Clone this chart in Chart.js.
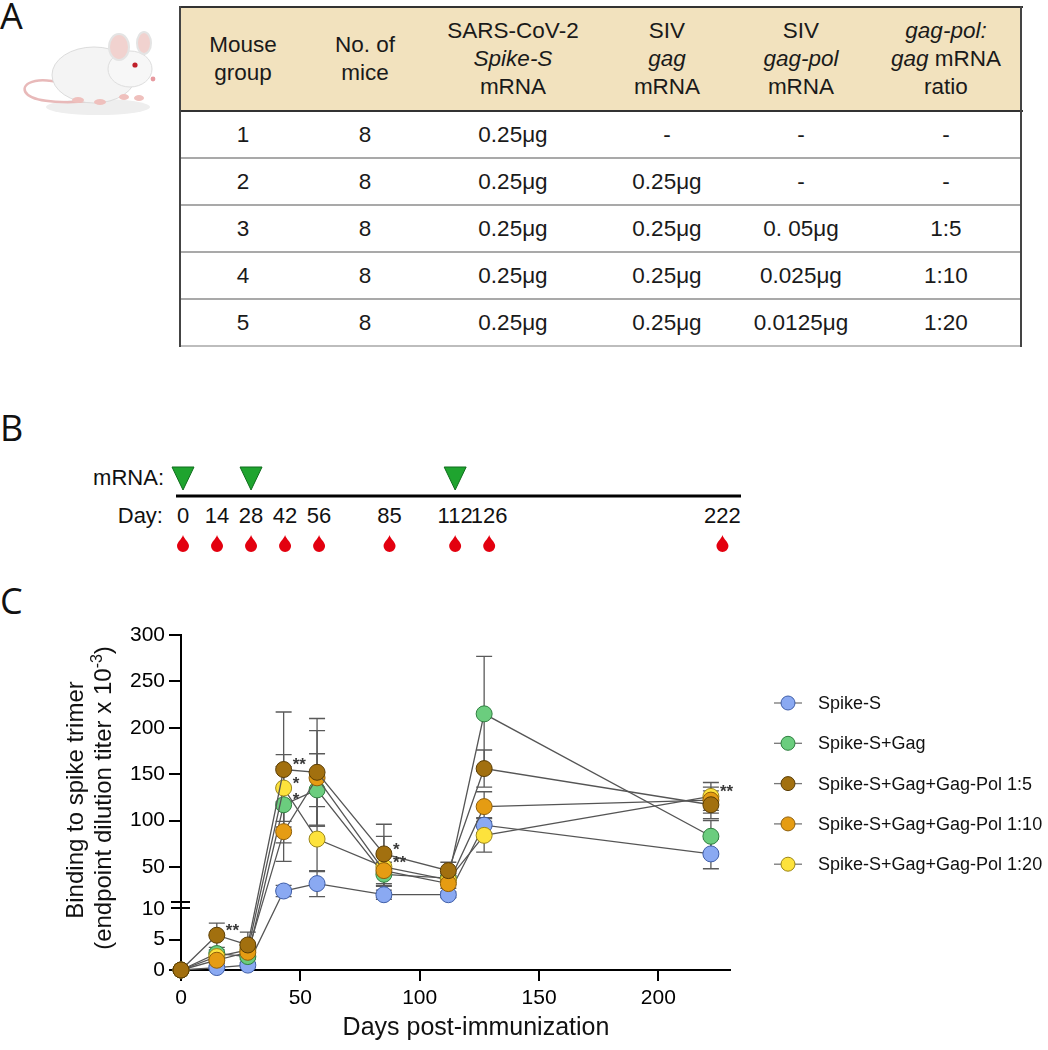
<!DOCTYPE html>
<html>
<head>
<meta charset="utf-8">
<script src="https://cdn.jsdelivr.net/npm/chart.js@4.4.1/dist/chart.umd.min.js"></script>
<style>
  html, body { margin: 0; padding: 0; background: #fff; }
  body { width: 1048px; height: 1050px; position: relative; overflow: hidden;
         font-family: "Liberation Sans", Arial, sans-serif; color: #1a1a1a; }
  .letter { position: absolute; font-family: "Open Sans", sans-serif; font-size: 36px; line-height: 36px; color: #111; }
  .cell { position: absolute; display: flex; flex-direction: column; align-items: center; justify-content: center;
          font-size: 22.5px; line-height: 28px; text-align: center; white-space: nowrap; }
  .rule { position: absolute; }
  #top { position: absolute; left: 0; top: 0; }
  #panelC { position: absolute; left: 0; top: 600px; width: 1048px; height: 450px; }
</style>
</head>
<body>
<svg id="top" width="1048" height="600" xmlns="http://www.w3.org/2000/svg">
  <!-- rough mouse drawing -->
  <g transform="translate(20,25)">
    <ellipse cx="78" cy="82" rx="52" ry="8" fill="#eeeeee"/>
    <path d="M42,58 C10,50 -2,62 8,70 C18,78 50,78 70,76" fill="none" stroke="#e8b9b9" stroke-width="2.5"/>
    <ellipse cx="74" cy="50" rx="42" ry="28" fill="#f4f4f4" stroke="#dcdcdc"/>
    <ellipse cx="110" cy="44" rx="22" ry="18" fill="#f7f7f7" stroke="#dedede"/>
    <ellipse cx="99" cy="22" rx="10" ry="13" fill="#f1d2cf" stroke="#e4e4e4" stroke-width="2"/>
    <ellipse cx="124" cy="18" rx="7" ry="11" fill="#f1d2cf" stroke="#e4e4e4" stroke-width="2"/>
    <circle cx="115" cy="40" r="2.6" fill="#c0202a"/>
    <circle cx="133" cy="54" r="2.4" fill="#e79aa0"/>
    <ellipse cx="58" cy="75" rx="6" ry="3" fill="#efc0bd"/>
    <ellipse cx="80" cy="77" rx="6" ry="3" fill="#efc0bd"/>
    <ellipse cx="104" cy="72" rx="5" ry="3" fill="#efc0bd"/>
    <ellipse cx="119" cy="73" rx="5" ry="3" fill="#efc0bd"/>
  </g>
  <g id="timeline"></g>
</svg>

<div class="letter" style="left:0;top:-2px">A</div>
<div id="table"></div>
<div class="letter" style="left:0;top:410px">B</div>
<div class="letter" style="left:0;top:583px">C</div>

<div id="panelC"><canvas id="chartC" width="1048" height="450"></canvas></div>

<script>
// ---- panel A table ----
const groups     = ['1', '2', '3', '4', '5'];
const nMice      = ['8', '8', '8', '8', '8'];
const spikeDose  = ['0.25μg', '0.25μg', '0.25μg', '0.25μg', '0.25μg'];
const gagDose    = ['-', '0.25μg', '0.25μg', '0.25μg', '0.25μg'];
const gagPolDose = ['-', '-', '0. 05μg', '0.025μg', '0.0125μg'];
const ratios     = ['-', '-', '1:5', '1:10', '1:20'];
const headerLines = [
  ['Mouse', 'group'],
  ['No. of', 'mice'],
  ['SARS-CoV-2', '<i>Spike-S</i>', 'mRNA'],
  ['SIV', '<i>gag</i>', 'mRNA'],
  ['SIV', '<i>gag-pol</i>', 'mRNA'],
  ['<i>gag-pol:</i>', '<i>gag</i> mRNA', 'ratio']
];

// ---- panel B timeline ----
const bleedDays = [0, 14, 28, 42, 56, 85, 112, 126, 222];
const mrnaDays  = [0, 28, 112];

// ---- panel C chart ----
const days = [0, 15, 28, 43, 57, 85, 112, 127, 222];
const seriesNames = ['Spike-S', 'Spike-S+Gag', 'Spike-S+Gag+Gag-Pol 1:5',
                     'Spike-S+Gag+Gag-Pol 1:10', 'Spike-S+Gag+Gag-Pol 1:20'];
const spikeS   = [0, 0.4, 0.8, 24, 32, 20, 20, 95, 64];
const spikeGag = [0, 2.7, 2.2, 117, 133, 42, 38, 215, 83];
const pol5     = [0, 5.7, 4.1, 155, 152, 64, 46, 156, 117];
const pol10    = [0, 1.6, 2.9, 88, 146, 46, 32, 115, 122];
const pol20    = [0, 2.2, 3.3, 135, 80, 50, 36, 84, 126];
const spikeSSd   = [0, 0.3, 0.4, 6, 14, 5, 3, 8, 16];
const spikeGagSd = [0, 0.6, 0.5, 41, 39, 13, 5, 62, 17];
const pol5Sd     = [0, 2.0, 2.1, 62, 58, 32, 9, 20, 15];
const pol10Sd    = [0, 0.5, 0.7, 32, 51, 16, 5, 16, 14];
const pol20Sd    = [0, 0.6, 0.8, 36, 35, 33, 5, 18, 15];
const xTicks = [0, 50, 100, 150, 200];
const yTicks = [0, 5, 10, 50, 100, 150, 200, 250, 300];
const starSeries = [2, 2, 4, 1, 2, 4, 4];
const starPoint  = [1, 3, 3, 3, 5, 5, 8];
const starText   = ['**', '**', '*', '*', '*', '**', '**'];

// ---------- build table ----------
const colEdges = [180, 306, 424, 602, 732, 870, 1022];
const tbl = document.getElementById('table');
function addRule(l, t, w, h, c) {
  const d = document.createElement('div');
  d.className = 'rule';
  d.style.cssText = `left:${l}px;top:${t}px;width:${w}px;height:${h}px;background:${c}`;
  tbl.appendChild(d);
}
function addCell(c, top, h, html) {
  const d = document.createElement('div');
  d.className = 'cell';
  d.style.left = colEdges[c] + 'px';
  d.style.width = (colEdges[c + 1] - colEdges[c]) + 'px';
  d.style.top = top + 'px';
  d.style.height = h + 'px';
  d.innerHTML = html;
  tbl.appendChild(d);
}
addRule(180, 7, 842, 104, '#f2e2be');
headerLines.forEach((lines, c) => addCell(c, 7, 104, lines.map(s => `<div>${s}</div>`).join('')));
const columns = [groups, nMice, spikeDose, gagDose, gagPolDose, ratios];
for (let r = 0; r < groups.length; r++) {
  columns.forEach((col, c) => addCell(c, 111 + 47 * r, 47, col[r]));
  if (r > 0) addRule(180, 110 + 47 * r, 842, 2, '#a9a9a9');
}
addRule(180, 345, 842, 2, '#bdbdbd');
addRule(179, 6, 844, 2, '#333');
addRule(179, 110, 844, 2, '#333');
addRule(179, 6, 2, 341, '#444');
addRule(1020, 6, 2, 341, '#444');

// ---------- build timeline ----------
const NS = 'http://www.w3.org/2000/svg';
const tl = document.getElementById('timeline');
const dayX = d => 183 + d * 2.43;
function svgEl(tag, attrs, text) {
  const e = document.createElementNS(NS, tag);
  for (const k in attrs) e.setAttribute(k, attrs[k]);
  if (text !== undefined) e.textContent = text;
  tl.appendChild(e);
  return e;
}
const sans = '"Liberation Sans", Arial, sans-serif';
svgEl('line', { x1: 176, x2: 741, y1: 496, y2: 496, stroke: '#000', 'stroke-width': 3 });
svgEl('text', { x: 164, y: 485, 'text-anchor': 'end', 'font-size': 22, 'font-family': sans, fill: '#111' }, 'mRNA:');
svgEl('text', { x: 163, y: 523, 'text-anchor': 'end', 'font-size': 22, 'font-family': sans, fill: '#111' }, 'Day:');
mrnaDays.forEach(d => {
  const x = dayX(d);
  svgEl('polygon', { points: `${x - 11},467 ${x + 11},467 ${x},490`, fill: '#1fa42f', stroke: '#0f6d1c', 'stroke-width': 1 });
});
bleedDays.forEach(d => {
  const x = dayX(d);
  svgEl('text', { x: x, y: 523, 'text-anchor': 'middle', 'font-size': 22, 'font-family': sans, fill: '#111' }, String(d));
  svgEl('path', { d: `M${x},535 C${x + 1},539 ${x + 6},542 ${x + 6},546 A6,6 0 0 1 ${x - 6},546 C${x - 6},542 ${x - 1},539 ${x},535 Z`, fill: '#e3000f' });
});

// ---------- chart ----------
const Y_MAX = 300, Y_BREAK = 10;
const LOW = 61 / 335, GAP = 5 / 335;   // share of axis height: 0-10 segment and the break gap

class BrokenScale extends Chart.LinearScale {
  buildTicks() {
    return yTicks.map(v => ({ value: v }));
  }
  getPixelForValue(value) {
    if (value === null || value === undefined) return NaN;
    let t;
    if (value <= Y_BREAK) t = value / Y_BREAK * LOW;
    else t = LOW + GAP + (value - Y_BREAK) / (Y_MAX - Y_BREAK) * (1 - LOW - GAP);
    return this.getPixelForDecimal(t);
  }
  getValueForPixel(pixel) {
    const t = this.getDecimalForPixel(pixel);
    if (t <= LOW) return t / LOW * Y_BREAK;
    return Y_BREAK + (t - LOW - GAP) / (1 - LOW - GAP) * (Y_MAX - Y_BREAK);
  }
}
BrokenScale.id = 'broken';
BrokenScale.defaults = Chart.LinearScale.defaults;
Chart.register(BrokenScale);

Chart.defaults.font.family = '"Liberation Sans", Arial, sans-serif';
Chart.defaults.color = '#000';

const seriesValues = [spikeS, spikeGag, pol5, pol10, pol20];
const seriesSd = [spikeSSd, spikeGagSd, pol5Sd, pol10Sd, pol20Sd];
const fills = ['#8aa9f2', '#6bcd7e', '#a2700f', '#e59c13', '#fde23c'];
const edges = ['#3f5ea8', '#2f7f40', '#5a3d05', '#8f5f0a', '#9c8618'];
const drawOrder = [4, 3, 0, 1, 2];

const errorBars = {
  id: 'errorBars',
  beforeDatasetsDraw(chart) {
    const { ctx, scales: { x, y } } = chart;
    ctx.save();
    ctx.strokeStyle = '#5a5a5a';
    ctx.lineWidth = 1.3;
    seriesValues.forEach((vals, s) => {
      vals.forEach((v, i) => {
        const sd = seriesSd[s][i];
        if (!sd) return;
        const px = x.getPixelForValue(days[i]);
        const top = y.getPixelForValue(v + sd);
        const bot = y.getPixelForValue(Math.max(0, v - sd));
        ctx.beginPath();
        ctx.moveTo(px, top); ctx.lineTo(px, bot);
        ctx.moveTo(px - 8, top); ctx.lineTo(px + 8, top);
        ctx.moveTo(px - 8, bot); ctx.lineTo(px + 8, bot);
        ctx.stroke();
      });
    });
    ctx.restore();
  }
};

const extras = {
  id: 'extras',
  afterDraw(chart) {
    const { ctx, scales: { x, y }, chartArea } = chart;
    ctx.save();
    // axis break marks at 10
    const p10 = y.getPixelForValue(Y_BREAK);
    ctx.strokeStyle = '#000';
    ctx.lineWidth = 2;
    ctx.beginPath();
    ctx.moveTo(chartArea.left - 10, p10 - 7); ctx.lineTo(chartArea.left + 9, p10 - 7);
    ctx.moveTo(chartArea.left - 10, p10 - 1); ctx.lineTo(chartArea.left + 9, p10 - 1);
    ctx.stroke();

    // significance stars
    ctx.fillStyle = '#3a3a3a';
    ctx.font = 'bold 17px "Liberation Sans", Arial, sans-serif';
    ctx.textAlign = 'left';
    ctx.textBaseline = 'middle';
    starText.forEach((t, k) => {
      const s = starSeries[k], i = starPoint[k];
      const px = x.getPixelForValue(days[i]);
      const py = y.getPixelForValue(seriesValues[s][i]);
      ctx.fillText(t, px + 9, py - 4);
    });

    // axis titles
    ctx.fillStyle = '#111';
    ctx.textBaseline = 'alphabetic';
    const f = '24px "Liberation Sans", Arial, sans-serif';
    const fs = '16px "Liberation Sans", Arial, sans-serif';
    ctx.font = '25px "Liberation Sans", Arial, sans-serif';
    ctx.textAlign = 'center';
    ctx.fillText('Days post-immunization', 476, 435);

    ctx.save();
    ctx.translate(83, 200);
    ctx.rotate(-Math.PI / 2);
    ctx.font = f;
    ctx.textAlign = 'center';
    ctx.fillText('Binding to spike trimer', 0, 0);
    ctx.restore();
    ctx.save();
    ctx.translate(111, 198);
    ctx.rotate(-Math.PI / 2);
    const a = '(endpoint dilution titer x 10', sup = '-3', b = ')';
    ctx.font = f; const wa = ctx.measureText(a).width, wb = ctx.measureText(b).width;
    ctx.font = fs; const ws = ctx.measureText(sup).width;
    const x0 = -(wa + ws + wb) / 2;
    ctx.textAlign = 'left';
    ctx.font = f; ctx.fillText(a, x0, 0);
    ctx.font = fs; ctx.fillText(sup, x0 + wa, -9);
    ctx.font = f; ctx.fillText(b, x0 + wa + ws, 0);
    ctx.restore();

    // legend
    ctx.font = '18px "Liberation Sans", Arial, sans-serif';
    ctx.textAlign = 'left';
    ctx.textBaseline = 'middle';
    seriesNames.forEach((name, s) => {
      const ly = 103 + s * 40.3;
      ctx.strokeStyle = '#777';
      ctx.lineWidth = 1.3;
      ctx.beginPath(); ctx.moveTo(774, ly); ctx.lineTo(802, ly); ctx.stroke();
      ctx.beginPath(); ctx.arc(788, ly, 7, 0, Math.PI * 2);
      ctx.fillStyle = fills[s]; ctx.fill();
      ctx.strokeStyle = edges[s]; ctx.lineWidth = 1; ctx.stroke();
      ctx.fillStyle = '#111';
      ctx.fillText(name, 818, ly + 1);
    });
    ctx.restore();
  }
};

new Chart(document.getElementById('chartC'), {
  type: 'line',
  data: {
    datasets: seriesNames.map((name, s) => ({
      label: name,
      data: days.map((d, i) => ({ x: d, y: seriesValues[s][i] })),
      borderColor: '#555',
      borderWidth: 1.3,
      pointRadius: 8,
      pointHoverRadius: 8,
      pointBackgroundColor: fills[s],
      pointBorderColor: edges[s],
      pointBorderWidth: 1,
      order: drawOrder[s],
      clip: false,
      tension: 0
    }))
  },
  options: {
    responsive: false,
    animation: false,
    events: [],
    layout: { padding: { left: 0, right: 318, top: 35, bottom: 0 } },
    scales: {
      x: {
        type: 'linear',
        min: 0,
        max: 230,
        afterBuildTicks: scale => { scale.ticks = xTicks.map(v => ({ value: v })); },
        afterFit: scale => { scale.height = 80; },
        grid: { drawOnChartArea: false, drawTicks: true, tickLength: 11, color: '#000', lineWidth: 2 },
        border: { display: true, color: '#000', width: 2 },
        ticks: { font: { size: 21 }, color: '#000', padding: 5, autoSkip: false, maxRotation: 0 }
      },
      y: {
        type: 'broken',
        min: 0,
        max: Y_MAX,
        afterFit: scale => { scale.width = 181; },
        grid: {
          drawOnChartArea: false, drawTicks: true, tickLength: 12, lineWidth: 2,
          color: c => (c.tick && c.tick.value === Y_BREAK ? 'rgba(0,0,0,0)' : '#000')
        },
        border: { display: true, color: '#000', width: 2 },
        ticks: { font: { size: 21 }, color: '#000', padding: 4, autoSkip: false, callback: v => String(v) }
      }
    },
    plugins: {
      legend: { display: false },
      tooltip: { enabled: false }
    }
  },
  plugins: [errorBars, extras]
});
</script>
</body>
</html>
